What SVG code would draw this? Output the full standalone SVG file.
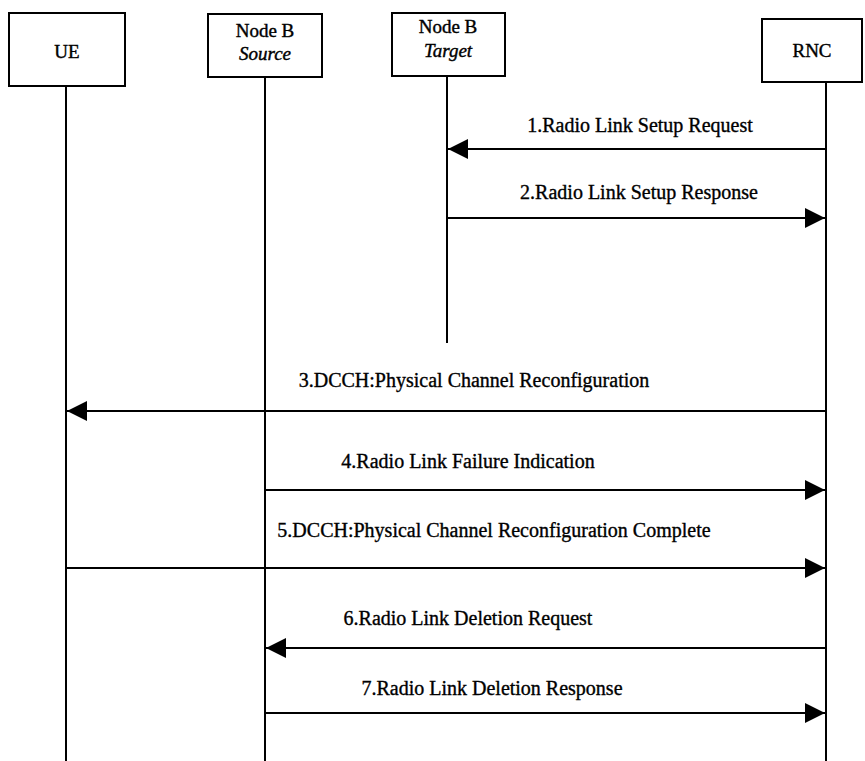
<svg xmlns="http://www.w3.org/2000/svg" width="865" height="761" viewBox="0 0 865 761">
  <style>
    .box { fill: #ffffff; stroke: #000000; stroke-width: 2; }
    .life { stroke: #000000; stroke-width: 2; fill: none; }
    .msg { stroke: #000000; stroke-width: 2; fill: none; marker-end: url(#head); }
    .hdr { font-family: "Liberation Serif", "Times New Roman", serif; font-size: 19px; fill: #000000; stroke: #000000; stroke-width: 0.4; text-anchor: middle; }
    .hdr-i { font-style: italic; }
    .lbl { font-family: "Liberation Serif", "Times New Roman", serif; font-size: 20px; fill: #000000; stroke: #000000; stroke-width: 0.35; text-anchor: middle; }
  </style>
  <defs>
    <marker id="head" viewBox="0 0 20 20" markerWidth="20" markerHeight="20" refX="20" refY="10" orient="auto" markerUnits="userSpaceOnUse">
      <path d="M0,0 L20,10 L0,20 z" fill="#000000"/>
    </marker>
  </defs>
  <rect width="865" height="761" fill="#ffffff"/>

  <!-- participants with their lifelines -->
  <g id="ue">
    <line class="life" x1="66" y1="86" x2="66" y2="761"/>
    <rect class="box" x="9" y="13" width="116" height="73"/>
    <text class="hdr" x="67" y="58">UE</text>
  </g>
  <g id="nodeb-source">
    <line class="life" x1="265" y1="77" x2="265" y2="761"/>
    <rect class="box" x="208" y="14" width="114" height="63"/>
    <text class="hdr" x="265" y="37">Node B</text>
    <text class="hdr hdr-i" x="265" y="60">Source</text>
  </g>
  <g id="nodeb-target">
    <line class="life" x1="447" y1="76" x2="447" y2="343"/>
    <rect class="box" x="392" y="13" width="113" height="63"/>
    <text class="hdr" x="448" y="33">Node B</text>
    <text class="hdr hdr-i" x="448" y="57">Target</text>
  </g>
  <g id="rnc">
    <line class="life" x1="826" y1="82" x2="826" y2="761"/>
    <rect class="box" x="762" y="19" width="100" height="63"/>
    <text class="hdr" x="812" y="57">RNC</text>
  </g>

  <!-- messages -->
  <g id="messages">
    <line class="msg" x1="826" y1="149" x2="448" y2="149"/>
    <text class="lbl" x="640" y="132">1.Radio Link Setup Request</text>

    <line class="msg" x1="447" y1="218" x2="825" y2="218"/>
    <text class="lbl" x="639" y="199">2.Radio Link Setup Response</text>

    <line class="msg" x1="826" y1="411" x2="67" y2="411"/>
    <text class="lbl" x="474" y="387">3.DCCH:Physical Channel Reconfiguration</text>

    <line class="msg" x1="265" y1="490" x2="825" y2="490"/>
    <text class="lbl" x="468" y="468">4.Radio Link Failure Indication</text>

    <line class="msg" x1="66" y1="568" x2="825" y2="568"/>
    <text class="lbl" x="494" y="537">5.DCCH:Physical Channel Reconfiguration Complete</text>

    <line class="msg" x1="826" y1="648" x2="266" y2="648"/>
    <text class="lbl" x="468" y="625">6.Radio Link Deletion Request</text>

    <line class="msg" x1="265" y1="713" x2="825" y2="713"/>
    <text class="lbl" x="492" y="695">7.Radio Link Deletion Response</text>
  </g>
</svg>
